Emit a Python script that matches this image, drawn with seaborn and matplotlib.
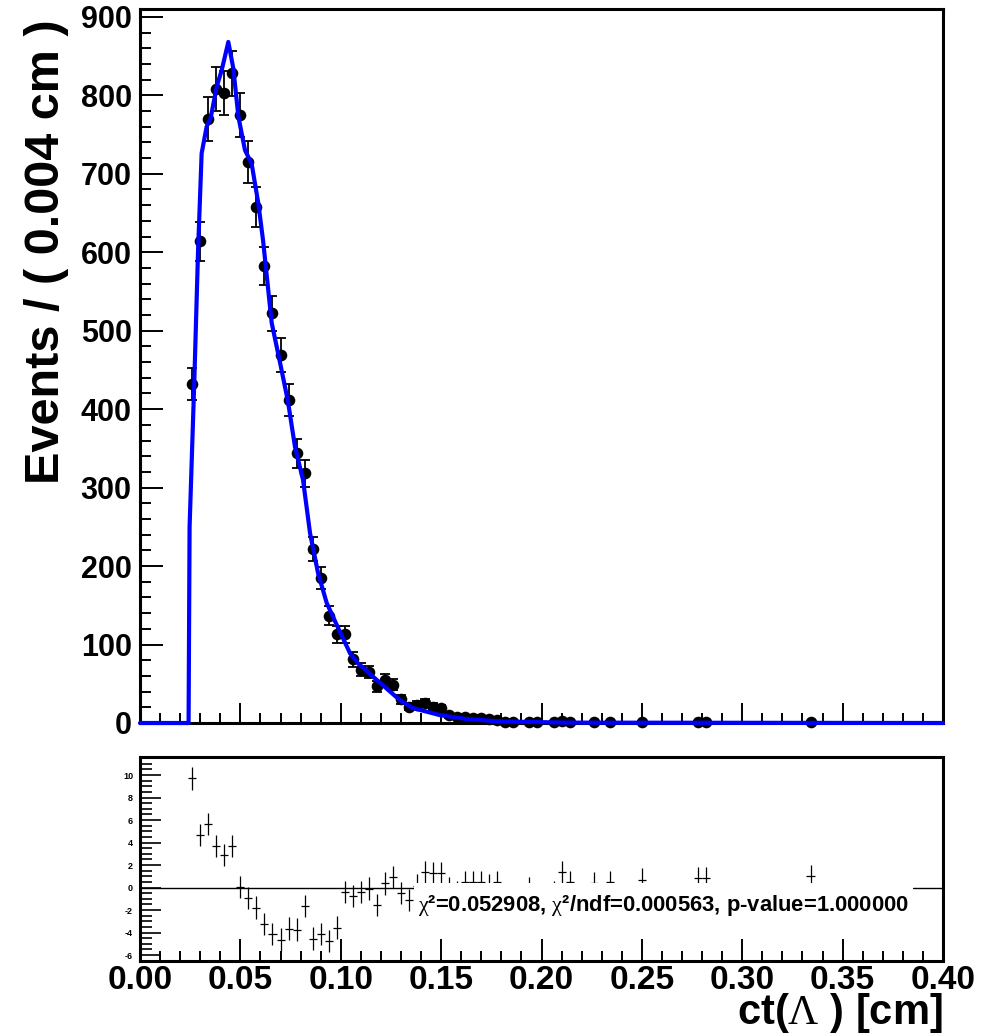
import numpy as np
import pandas as pd
import matplotlib
matplotlib.use("Agg")
import matplotlib.pyplot as plt
from matplotlib.patches import Rectangle
from matplotlib.ticker import MultipleLocator
import seaborn as sns

# ---------------- data ----------------
ct_bins = [0.026, 0.030, 0.034, 0.038, 0.042, 0.046, 0.050, 0.054, 0.058, 0.062,
           0.066, 0.070, 0.074, 0.078, 0.082, 0.086, 0.090, 0.094, 0.098, 0.102,
           0.106, 0.110, 0.114, 0.118, 0.122, 0.126, 0.130, 0.134, 0.138, 0.142,
           0.146, 0.150, 0.154, 0.158, 0.162, 0.166, 0.170, 0.174, 0.178, 0.182,
           0.186, 0.194, 0.198, 0.206, 0.210, 0.214, 0.226, 0.234, 0.250, 0.278,
           0.282, 0.334]
events = [432, 614, 770, 808, 803, 828, 775, 715, 658, 583,
          522, 469, 412, 344, 318, 222, 185, 137, 113, 113,
          81, 68, 65, 47, 55, 49, 30, 21, 23, 26,
          21, 19, 10, 8, 8, 7, 6, 5, 4, 1,
          1, 1, 1, 1, 3, 1, 1, 1, 1, 1,
          1, 1]

fit_ct = [0.0, 0.0242, 0.0247, 0.0271, 0.0289, 0.0307, 0.0332, 0.0352, 0.0382, 0.0407,
          0.0440, 0.0465, 0.0490, 0.0523, 0.0556, 0.0589, 0.0613, 0.0656, 0.0697, 0.0737,
          0.0772, 0.0812, 0.0847, 0.0887, 0.0930, 0.0980, 0.1046, 0.1086, 0.1161, 0.1295,
          0.1360, 0.1494, 0.1629, 0.1793, 0.2127, 0.4]
fit_val = [0, 0, 250, 440, 600, 726, 760, 771, 811, 832,
           868, 834, 773, 730, 713, 663, 615, 510, 460, 410,
           352, 310, 242, 191, 153, 125, 89, 76, 59, 29,
           19, 10, 5, 2, 0.5, 0]

pull_ct = ct_bins
pull = [9.7, 4.66, 5.64, 3.7, 2.88, 3.68, 0.06, -0.95, -1.78, -3.26,
        -4.15, -4.63, -3.65, -3.74, -1.66, -4.54, -4.15, -4.75, -3.56, -0.39,
        -0.74, -0.39, -0.09, -1.57, 0.36, 0.95, -0.47, -1.13, 0.16, 1.4,
        1.25, 1.3, -0.06, -0.4, 0.45, 0.45, 0.45, 0.2, 0.45, -0.7,
        -0.7, -0.05, -0.7, -0.4, 1.4, 0.5, 0.4, 0.5, 0.7, 0.85,
        0.85, 1.0]

top_yticks = [0, 100, 200, 300, 400, 500, 600, 700, 800, 900]
bot_yticks = [-6, -4, -2, 0, 2, 4, 6, 8, 10]
xticks = [0.00, 0.05, 0.10, 0.15, 0.20, 0.25, 0.30, 0.35, 0.40]
xtick_labels = ["0.00", "0.05", "0.10", "0.15", "0.20", "0.25", "0.30", "0.35", "0.40"]
chi_text = r"$\chi$²=0.052908, $\chi$²/ndf=0.000563, p-value=1.000000"
ylabel = "Events / ( 0.004 cm )"
xlabel = r"ct($\Lambda$ ) [cm]"

# ---------------- style ----------------
sns.set_theme(style="ticks")
plt.rcParams['font.family'] = ['Liberation Sans', 'DejaVu Sans']
plt.rcParams['font.weight'] = 'bold'
plt.rcParams['text.color'] = 'black'
plt.rcParams['axes.labelcolor'] = 'black'
plt.rcParams['xtick.color'] = 'black'
plt.rcParams['ytick.color'] = 'black'
plt.rcParams['xtick.labelcolor'] = 'black'
plt.rcParams['ytick.labelcolor'] = 'black'
plt.rcParams['mathtext.fontset'] = 'custom'
plt.rcParams['mathtext.rm'] = 'Liberation Serif:normal'
plt.rcParams['mathtext.it'] = 'Liberation Serif:normal'
plt.rcParams['mathtext.bf'] = 'Liberation Serif:normal'

W, H = 996, 1034
fig = plt.figure(figsize=(W / 100, H / 100), dpi=100)
fig.patch.set_facecolor("white")

def fr(x0, y0, x1, y1):
    return [x0 / W, 1 - y1 / H, (x1 - x0) / W, (y1 - y0) / H]

ax = fig.add_axes(fr(140, 9, 943, 723))
axr = fig.add_axes(fr(140, 757, 943, 961))

df = pd.DataFrame({"ct": ct_bins, "events": events})
dfit = pd.DataFrame({"ct": fit_ct, "val": fit_val})

# top panel
ax.errorbar(df["ct"], df["events"], yerr=np.sqrt(df["events"]), fmt="none",
            ecolor="black", elinewidth=1.3, capsize=3.5, capthick=1.3, zorder=3, clip_on=False)
sns.scatterplot(data=df, x="ct", y="events", ax=ax, color="black", s=70,
                edgecolor="black", linewidth=0, zorder=4, clip_on=False, legend=False)
sns.lineplot(data=dfit, x="ct", y="val", ax=ax, sort=False, estimator=None,
             color=(0, 0, 1), lw=3.0, zorder=5, clip_on=False)
ax.set_xlim(0, 0.4)
ax.set_ylim(0, 910)
ax.set_yticks(top_yticks)
ax.set_yticklabels([str(v) for v in top_yticks])
ax.yaxis.set_minor_locator(MultipleLocator(20))
ax.set_xticks(xticks)
ax.xaxis.set_minor_locator(MultipleLocator(0.01))
ax.tick_params(axis="x", which="both", labelbottom=False)
ax.tick_params(axis="both", which="both", direction="in", top=False, right=False, colors="black")
ax.tick_params(axis="y", which="major", length=16.5, width=1.4, labelsize=22, pad=6)
ax.tick_params(axis="y", which="minor", length=8, width=1.4)
ax.tick_params(axis="x", which="major", length=14.5, width=1.4)
ax.tick_params(axis="x", which="minor", length=7, width=1.4)
ax.set_xlabel("")
ax.set_ylabel("")

# bottom panel
axr.errorbar(pull_ct, pull, xerr=0.002, yerr=1.0, fmt="none", ecolor="black",
             elinewidth=0.9, capsize=0, zorder=3)
axr.set_xlim(0, 0.4)
axr.set_ylim(-6.53, 11.6)
box_x0, box_x1 = 0.1365, 0.385
axr.plot([0, box_x0], [0, 0], color="black", lw=1.0, zorder=2)
axr.plot([box_x1, 0.4], [0, 0], color="black", lw=1.0, zorder=2)
axr.add_patch(Rectangle((box_x0, -3.6), box_x1 - box_x0, 3.98,
                        facecolor="white", edgecolor="none", zorder=6))
axr.text(0.1385, -1.6, chi_text, fontsize=15.8, fontweight="bold", color="black",
         ha="left", va="center", zorder=7)
axr.set_yticks(bot_yticks)
axr.set_yticklabels([str(v) for v in bot_yticks])
axr.yaxis.set_minor_locator(MultipleLocator(0.5))
axr.set_xticks(xticks)
axr.set_xticklabels(xtick_labels)
axr.xaxis.set_minor_locator(MultipleLocator(0.01))
axr.tick_params(axis="both", which="both", direction="in", top=False, right=False, colors="black")
axr.tick_params(axis="y", which="major", length=15, width=1.2, labelsize=6.5, pad=5)
axr.tick_params(axis="y", which="minor", length=8.5, width=1.2)
axr.tick_params(axis="x", which="major", length=16, width=1.4, labelsize=24, pad=3)
axr.tick_params(axis="x", which="minor", length=7, width=1.4)
axr.set_xlabel("")
axr.set_ylabel("")

for a in (ax, axr):
    for s in a.spines.values():
        s.set_visible(True)
        s.set_linewidth(2.2)
        s.set_color("black")
    for lab in a.get_xticklabels() + a.get_yticklabels():
        lab.set_fontweight("bold")
        lab.set_color("black")
    a.set_facecolor("white")

fig.text(47 / W, 1 - 252 / H, ylabel, rotation=90, fontsize=35, fontweight="bold",
         color="black", ha="center", va="center")
fig.text(943 / W, 1 - 1013 / H, xlabel, fontsize=30, fontweight="bold",
         color="black", ha="right", va="center")

fig.savefig("out.png", dpi=100, facecolor="white")
